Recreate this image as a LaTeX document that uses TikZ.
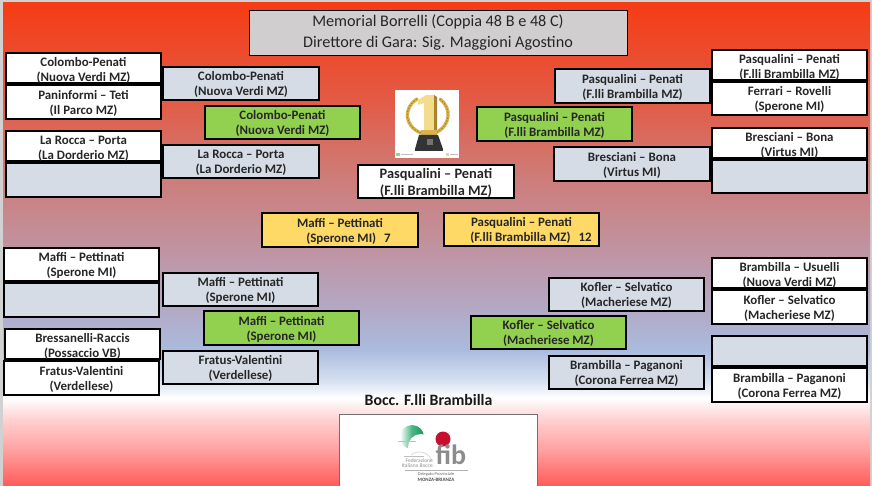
\documentclass[tikz,border=0pt]{standalone}
\usepackage{fontspec}
\setmainfont{Carlito}
\definecolor{g0}{HTML}{FF5A5A}
\definecolor{g1}{HTML}{FFA0A0}
\definecolor{g2}{HTML}{FFD0D0}
\definecolor{g3}{HTML}{FFFFFF}
\definecolor{g4}{HTML}{D5E0F0}
\definecolor{g5}{HTML}{AABBDD}
\definecolor{g6}{HTML}{B5A5C0}
\definecolor{g7}{HTML}{C2909C}
\definecolor{g8}{HTML}{CF7A75}
\definecolor{g9}{HTML}{E35A45}
\definecolor{g10}{HTML}{F53C15}
\definecolor{boxblue}{HTML}{D5DCE6}
\definecolor{boxgreen}{HTML}{92D050}
\definecolor{boxyellow}{HTML}{FFD966}
\definecolor{boxgrey}{HTML}{D0CECE}
\definecolor{gold}{HTML}{D9B24A}
\definecolor{goldlight}{HTML}{F3DC8C}
\definecolor{golddark}{HTML}{A88430}
\definecolor{fibgreen}{HTML}{109A5A}
\definecolor{fibred}{HTML}{C8102E}
\definecolor{fibgrey}{HTML}{8C8C8C}
\pgfdeclareverticalshading{bgshade}{100bp}{color(0bp)=(g0); color(25bp)=(g0); color(28.7bp)=(g1); color(31.85bp)=(g2); color(34.1bp)=(g3); color(35.95bp)=(g4); color(39.1bp)=(g5); color(44.25bp)=(g6); color(50.5bp)=(g7); color(57.7bp)=(g8); color(65bp)=(g9); color(75bp)=(g10); color(100bp)=(g10)}
\tikzset{
  boxbase/.style={draw=black,line width=2pt,inner sep=0pt,align=center,font=\fontsize{12.9}{15}\selectfont\bfseries,text=black!85},
  whitebox/.style={boxbase,fill=white},
  bluebox/.style={boxbase,fill=boxblue},
  greenbox/.style={boxbase,fill=boxgreen},
  yellowbox/.style={boxbase,fill=boxyellow},
}
\newcommand{\bx}[7]{%
  \pgfmathsetmacro{\cxx}{(#3+#5)/2}\pgfmathsetmacro{\cyy}{(#4+#6)/2}%
  \pgfmathsetmacro{\ww}{#5-#3-2}\pgfmathsetmacro{\hh}{#6-#4-2}%
  \node[#2,minimum width=\ww pt,minimum height=\hh pt] (#1) at (\cxx,\cyy) {\rule{0pt}{11.5pt}#7};}
\begin{document}
\begin{tikzpicture}[x=1pt,y=-1pt]
\useasboundingbox (0,0) rectangle (872,486);
\fill[black!18] (0,0) rectangle (872,486);
\fill[shading=bgshade] (3,3) rectangle (870,486);
% title
\node[draw=black,line width=0.8pt,fill=boxgrey,minimum width=378pt,minimum height=45pt,inner sep=0pt,align=center,font=\fontsize{16.2}{20.5}\selectfont,text=black!85] (title) at (438,32.5) {Memorial Borrelli (Coppia 48 B e 48 C)\\Direttore di Gara: Sig. Maggioni Agostino};
% left top
\bx{a1}{whitebox}{5}{52}{162}{84}{\raisebox{-1.5pt}{Colombo-Penati}\\\raisebox{-1.5pt}{(Nuova Verdi MZ)}}
\bx{a2}{whitebox}{5}{84}{162}{120}{Paninformi – Teti\\(Il Parco MZ)}
\bx{a3}{whitebox}{5}{130}{162}{162}{\raisebox{-1.5pt}{La Rocca – Porta}\\\raisebox{-1.5pt}{(La Dorderio MZ)}}
\bx{a4}{bluebox}{5}{162}{162}{198}{}
\bx{b1}{bluebox}{162}{66}{320}{101}{Colombo-Penati\\(Nuova Verdi MZ)}
\bx{b2}{bluebox}{162}{144}{320}{179}{La Rocca – Porta\\(La Dorderio MZ)}
\bx{c1}{greenbox}{204}{105}{361}{140}{Colombo-Penati\\(Nuova Verdi MZ)}
% right top
\bx{d2}{bluebox}{554}{68}{711}{104}{Pasqualini – Penati\\(F.lli Brambilla MZ)}
\bx{d3}{bluebox}{553}{146}{711}{182}{Bresciani – Bona\\(Virtus MI)}
\bx{e1}{whitebox}{711}{49}{868}{81}{\raisebox{-1.5pt}{Pasqualini – Penati}\\\raisebox{-1.5pt}{(F.lli Brambilla MZ)}}
\bx{e2}{whitebox}{711}{81}{868}{116}{Ferrari – Rovelli\\(Sperone MI)}
\bx{e3}{whitebox}{711}{127}{868}{159}{\raisebox{-1.5pt}{Bresciani – Bona}\\\raisebox{-1.5pt}{(Virtus MI)}}
\bx{e4}{bluebox}{711}{159}{868}{194}{}
\bx{f1}{greenbox}{476}{106}{633}{142}{Pasqualini – Penati\\(F.lli Brambilla MZ)}
% centre
\node[boxbase,fill=white,minimum width=156pt,minimum height=33pt,font=\fontsize{14.4}{17}\selectfont\bfseries] (winner) at (436,181.5) {\rule{0pt}{12.5pt}Pasqualini – Penati\\(F.lli Brambilla MZ)};
\bx{y1}{yellowbox}{261}{212}{419}{248}{Maffi – Pettinati\\\hspace*{17pt}(Sperone MI)\hspace{8pt}7}
\bx{y2}{yellowbox}{443}{212}{600}{247}{Pasqualini – Penati\\\hspace*{19pt}(F.lli Brambilla MZ)\hspace{8pt}12}
% left bottom
\bx{g1n}{whitebox}{3}{247}{160}{282}{Maffi – Pettinati\\(Sperone MI)}
\bx{g2n}{bluebox}{3}{282}{160}{318}{}
\bx{g3n}{whitebox}{4}{328}{161}{360}{\raisebox{-1.5pt}{Bressanelli-Raccis}\\\raisebox{-1.5pt}{(Possaccio VB)}}
\bx{g4n}{whitebox}{3}{360}{160}{396}{Fratus-Valentini\\(Verdellese)}
\bx{h1}{bluebox}{162}{272}{319}{307}{Maffi – Pettinati\\(Sperone MI)}
\bx{h2}{bluebox}{162}{350}{319}{385}{Fratus-Valentini\\(Verdellese)}
\bx{i1}{greenbox}{203}{310}{360}{346}{Maffi – Pettinati\\(Sperone MI)}
% right bottom
\bx{j1}{bluebox}{548}{277}{705}{312}{Kofler – Selvatico\\(Macheriese MZ)}
\bx{j2}{bluebox}{548}{355}{705}{390}{Brambilla – Paganoni\\(Corona Ferrea MZ)}
\bx{k1}{whitebox}{711}{257}{868}{289}{\raisebox{-1.5pt}{Brambilla – Usuelli}\\\raisebox{-1.5pt}{(Nuova Verdi MZ)}}
\bx{k2}{whitebox}{711}{289}{868}{325}{Kofler – Selvatico\\(Macheriese MZ)}
\bx{k3}{bluebox}{711}{335}{868}{367}{}
\bx{k4}{whitebox}{711}{367}{868}{403}{Brambilla – Paganoni\\(Corona Ferrea MZ)}
\bx{l1}{greenbox}{470}{315}{627}{350}{Kofler – Selvatico\\(Macheriese MZ)}
% club name
\node[font=\fontsize{15.8}{18}\selectfont\bfseries,text=black!90] (club) at (428.5,400) {Bocc. F.lli Brambilla};
% trophy
\fill[white] (395,90) rectangle (459,158);
\draw[gold,line width=3.4pt,line cap=round] (417,99) .. controls (403,108) and (404,126) .. (421,133);
\draw[gold,line width=3.4pt,line cap=round] (440,99) .. controls (452,108) and (451,126) .. (435,133);
\draw[golddark,line width=1pt,dash pattern=on 1.5pt off 1.5pt] (417,99) .. controls (403,108) and (404,126) .. (421,133);
\draw[golddark,line width=1pt,dash pattern=on 1.5pt off 1.5pt] (440,99) .. controls (452,108) and (451,126) .. (435,133);
\fill[goldlight] (426,95) -- (434,95) -- (434,130) -- (424,130) -- (424,103) -- (418,105) -- (418,100) -- cycle;
\fill[golddark] (434,95) -- (437,97) -- (437,130) -- (434,130) -- cycle;
\fill[gold] (421,130) rectangle (437,135);
\fill[black!80] (419,135) -- (438,135) -- (443,149) -- (415,149) -- cycle;
\fill[black!55] (427,139) rectangle (433,145);
\fill[black!80] (415,149) rectangle (443,151);
\fill[green!45!gray!60] (396,153) rectangle (400,156);
\fill[black!25] (401,154) rectangle (413,155.5);
\fill[yellow!50!gray!60] (446,153) rectangle (449,156);
\fill[black!25] (450,154) rectangle (458,155.5);
% logo
\draw[fibgrey!80!black,line width=0.8pt,fill=white] (339.5,486) -- (339.5,414.5) -- (537.5,414.5) -- (537.5,486);
\shade[left color=white,right color=fibgreen,middle color=fibgreen!75] (412,437) circle[radius=12];
\fill[white] (421,447) circle[radius=13];
\draw[black!15,line width=0.8pt] (411,455) arc[start angle=-130,end angle=-20,radius=13];
\draw[black!25,line width=0.6pt] (398,441) -- (416,441);
\draw[black!25,line width=0.6pt] (404,456) -- (424,456);
\fill[fibred] (443,439) circle[radius=7.5];
\node[inner sep=0pt,font=\fontsize{28}{28}\selectfont\bfseries,text=fibgrey] (fib) at (451,455) {fib};
\node[inner sep=0pt,align=right,anchor=east,font=\fontsize{5.5}{5.5}\selectfont,text=fibgrey] (fed) at (433,463) {Federazione\\Italiana Bocce};
\draw[black!30,line width=0.8pt] (405,470) -- (468,470);
\node[inner sep=0pt,font=\fontsize{4.4}{4.4}\selectfont,text=black!60] (del) at (436,474) {Delegato Provinciale};
\node[inner sep=0pt,font=\fontsize{5}{5}\selectfont\bfseries,text=black!70] (mb) at (436,480) {MONZA-BRIANZA};
\end{tikzpicture}
\end{document}
